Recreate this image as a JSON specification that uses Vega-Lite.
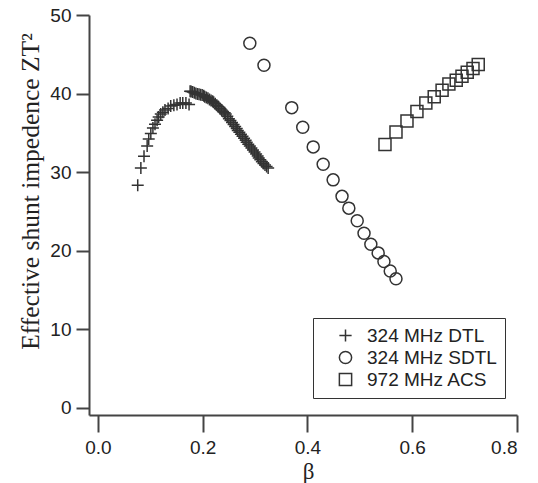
{
  "$schema": "https://vega.github.io/schema/vega-lite/v6.json",
  "width": 428,
  "height": 400,
  "autosize": {"type": "none"},
  "padding": {"left": 89, "top": 15, "right": 21, "bottom": 68},
  "background": "white",
  "view": {"stroke": null},
  "config": {
    "font": "Liberation Sans",
    "axis": {"grid": false, "domainColor": "#444", "domainWidth": 2, "tickColor": "#444", "tickWidth": 2, "labelFont": "Liberation Sans", "labelFontSize": 19, "labelColor": "#222"}
  },
  "datasets": {
    "pts": [
      {"beta": 0.076, "z": 28.3, "s": "324 MHz DTL"},
      {"beta": 0.082, "z": 30.5, "s": "324 MHz DTL"},
      {"beta": 0.088, "z": 32.0, "s": "324 MHz DTL"},
      {"beta": 0.094, "z": 33.3, "s": "324 MHz DTL"},
      {"beta": 0.097, "z": 34.2, "s": "324 MHz DTL"},
      {"beta": 0.101, "z": 34.9, "s": "324 MHz DTL"},
      {"beta": 0.105, "z": 35.6, "s": "324 MHz DTL"},
      {"beta": 0.109, "z": 36.1, "s": "324 MHz DTL"},
      {"beta": 0.113, "z": 36.6, "s": "324 MHz DTL"},
      {"beta": 0.116, "z": 37.0, "s": "324 MHz DTL"},
      {"beta": 0.120, "z": 37.4, "s": "324 MHz DTL"},
      {"beta": 0.124, "z": 37.6, "s": "324 MHz DTL"},
      {"beta": 0.128, "z": 37.9, "s": "324 MHz DTL"},
      {"beta": 0.134, "z": 38.1, "s": "324 MHz DTL"},
      {"beta": 0.139, "z": 38.4, "s": "324 MHz DTL"},
      {"beta": 0.145, "z": 38.5, "s": "324 MHz DTL"},
      {"beta": 0.151, "z": 38.6, "s": "324 MHz DTL"},
      {"beta": 0.157, "z": 38.8, "s": "324 MHz DTL"},
      {"beta": 0.162, "z": 38.8, "s": "324 MHz DTL"},
      {"beta": 0.168, "z": 38.8, "s": "324 MHz DTL"},
      {"beta": 0.174, "z": 38.6, "s": "324 MHz DTL"},
      {"beta": 0.176, "z": 40.3, "s": "324 MHz DTL"},
      {"beta": 0.178, "z": 40.25, "s": "324 MHz DTL"},
      {"beta": 0.181, "z": 40.2, "s": "324 MHz DTL"},
      {"beta": 0.184, "z": 40.1, "s": "324 MHz DTL"},
      {"beta": 0.187, "z": 40.0, "s": "324 MHz DTL"},
      {"beta": 0.190, "z": 39.95, "s": "324 MHz DTL"},
      {"beta": 0.193, "z": 39.9, "s": "324 MHz DTL"},
      {"beta": 0.196, "z": 39.85, "s": "324 MHz DTL"},
      {"beta": 0.199, "z": 39.8, "s": "324 MHz DTL"},
      {"beta": 0.202, "z": 39.7, "s": "324 MHz DTL"},
      {"beta": 0.204, "z": 39.6, "s": "324 MHz DTL"},
      {"beta": 0.207, "z": 39.5, "s": "324 MHz DTL"},
      {"beta": 0.210, "z": 39.4, "s": "324 MHz DTL"},
      {"beta": 0.213, "z": 39.25, "s": "324 MHz DTL"},
      {"beta": 0.216, "z": 39.1, "s": "324 MHz DTL"},
      {"beta": 0.219, "z": 39.0, "s": "324 MHz DTL"},
      {"beta": 0.221, "z": 38.9, "s": "324 MHz DTL"},
      {"beta": 0.224, "z": 38.7, "s": "324 MHz DTL"},
      {"beta": 0.227, "z": 38.5, "s": "324 MHz DTL"},
      {"beta": 0.230, "z": 38.3, "s": "324 MHz DTL"},
      {"beta": 0.233, "z": 38.1, "s": "324 MHz DTL"},
      {"beta": 0.236, "z": 37.9, "s": "324 MHz DTL"},
      {"beta": 0.239, "z": 37.7, "s": "324 MHz DTL"},
      {"beta": 0.242, "z": 37.55, "s": "324 MHz DTL"},
      {"beta": 0.244, "z": 37.4, "s": "324 MHz DTL"},
      {"beta": 0.247, "z": 37.1, "s": "324 MHz DTL"},
      {"beta": 0.250, "z": 36.8, "s": "324 MHz DTL"},
      {"beta": 0.253, "z": 36.55, "s": "324 MHz DTL"},
      {"beta": 0.256, "z": 36.3, "s": "324 MHz DTL"},
      {"beta": 0.259, "z": 36.05, "s": "324 MHz DTL"},
      {"beta": 0.262, "z": 35.8, "s": "324 MHz DTL"},
      {"beta": 0.265, "z": 35.55, "s": "324 MHz DTL"},
      {"beta": 0.267, "z": 35.3, "s": "324 MHz DTL"},
      {"beta": 0.270, "z": 35.05, "s": "324 MHz DTL"},
      {"beta": 0.273, "z": 34.8, "s": "324 MHz DTL"},
      {"beta": 0.276, "z": 34.55, "s": "324 MHz DTL"},
      {"beta": 0.279, "z": 34.3, "s": "324 MHz DTL"},
      {"beta": 0.282, "z": 34.05, "s": "324 MHz DTL"},
      {"beta": 0.284, "z": 33.8, "s": "324 MHz DTL"},
      {"beta": 0.287, "z": 33.55, "s": "324 MHz DTL"},
      {"beta": 0.290, "z": 33.3, "s": "324 MHz DTL"},
      {"beta": 0.293, "z": 33.05, "s": "324 MHz DTL"},
      {"beta": 0.296, "z": 32.8, "s": "324 MHz DTL"},
      {"beta": 0.299, "z": 32.55, "s": "324 MHz DTL"},
      {"beta": 0.302, "z": 32.3, "s": "324 MHz DTL"},
      {"beta": 0.305, "z": 32.05, "s": "324 MHz DTL"},
      {"beta": 0.307, "z": 31.8, "s": "324 MHz DTL"},
      {"beta": 0.310, "z": 31.55, "s": "324 MHz DTL"},
      {"beta": 0.313, "z": 31.3, "s": "324 MHz DTL"},
      {"beta": 0.316, "z": 31.1, "s": "324 MHz DTL"},
      {"beta": 0.319, "z": 30.9, "s": "324 MHz DTL"},
      {"beta": 0.322, "z": 30.7, "s": "324 MHz DTL"},
      {"beta": 0.325, "z": 30.5, "s": "324 MHz DTL"},
      {"beta": 0.290, "z": 46.4, "s": "324 MHz SDTL"},
      {"beta": 0.317, "z": 43.6, "s": "324 MHz SDTL"},
      {"beta": 0.370, "z": 38.2, "s": "324 MHz SDTL"},
      {"beta": 0.391, "z": 35.7, "s": "324 MHz SDTL"},
      {"beta": 0.411, "z": 33.2, "s": "324 MHz SDTL"},
      {"beta": 0.430, "z": 31.0, "s": "324 MHz SDTL"},
      {"beta": 0.449, "z": 29.0, "s": "324 MHz SDTL"},
      {"beta": 0.466, "z": 26.9, "s": "324 MHz SDTL"},
      {"beta": 0.479, "z": 25.4, "s": "324 MHz SDTL"},
      {"beta": 0.495, "z": 23.8, "s": "324 MHz SDTL"},
      {"beta": 0.508, "z": 22.2, "s": "324 MHz SDTL"},
      {"beta": 0.521, "z": 20.8, "s": "324 MHz SDTL"},
      {"beta": 0.535, "z": 19.7, "s": "324 MHz SDTL"},
      {"beta": 0.546, "z": 18.6, "s": "324 MHz SDTL"},
      {"beta": 0.558, "z": 17.4, "s": "324 MHz SDTL"},
      {"beta": 0.569, "z": 16.4, "s": "324 MHz SDTL"},
      {"beta": 0.548, "z": 33.5, "s": "972 MHz ACS"},
      {"beta": 0.569, "z": 35.1, "s": "972 MHz ACS"},
      {"beta": 0.590, "z": 36.5, "s": "972 MHz ACS"},
      {"beta": 0.609, "z": 37.7, "s": "972 MHz ACS"},
      {"beta": 0.626, "z": 38.8, "s": "972 MHz ACS"},
      {"beta": 0.642, "z": 39.6, "s": "972 MHz ACS"},
      {"beta": 0.657, "z": 40.4, "s": "972 MHz ACS"},
      {"beta": 0.670, "z": 41.2, "s": "972 MHz ACS"},
      {"beta": 0.684, "z": 41.7, "s": "972 MHz ACS"},
      {"beta": 0.695, "z": 42.2, "s": "972 MHz ACS"},
      {"beta": 0.705, "z": 42.7, "s": "972 MHz ACS"},
      {"beta": 0.716, "z": 43.2, "s": "972 MHz ACS"},
      {"beta": 0.726, "z": 43.7, "s": "972 MHz ACS"}
    ]
  },
  "data": {"name": "pts"},
  "mark": {"type": "point", "filled": false, "color": "#333", "strokeWidth": 1.5, "size": 144, "opacity": 1},
  "encoding": {
    "x": {
      "field": "beta", "type": "quantitative",
      "scale": {"domain": [-0.017, 0.8], "nice": false, "zero": false},
      "axis": {"values": [0, 0.2, 0.4, 0.6, 0.8], "format": ".1f", "tickSize": 17, "labelPadding": 6,
        "title": "β", "titleFont": "Liberation Serif", "titleFontSize": 23, "titleFontWeight": "normal", "titleColor": "#222",
        "titleX": 219, "titleY": 63, "titleBaseline": "alphabetic", "titleAlign": "center"}
    },
    "y": {
      "field": "z", "type": "quantitative",
      "scale": {"domain": [-0.95, 50], "nice": false, "zero": false},
      "axis": {"values": [0, 10, 20, 30, 40, 50], "tickSize": 13, "labelPadding": 5,
        "title": "Effective shunt impedence ZT²", "titleFont": "Liberation Serif", "titleFontSize": 25.5, "titleFontWeight": "normal", "titleColor": "#222",
        "titleX": -59, "titleY": 176, "titleAngle": -90, "titleBaseline": "middle", "titleAlign": "center"}
    },
    "shape": {
      "field": "s", "type": "nominal",
      "scale": {"domain": ["324 MHz DTL", "324 MHz SDTL", "972 MHz ACS"], "range": ["M-1,0H1M0,-1V1", "circle", "square"]},
      "legend": {"title": null, "orient": "none", "legendX": 224, "legendY": 303,
        "strokeColor": "#333", "fillColor": "white", "padding": 8,
        "symbolOffset": 15, "symbolSize": 150, "symbolStrokeColor": "#333", "symbolStrokeWidth": 1.5, "symbolFillColor": "transparent",
        "labelFont": "Liberation Sans", "labelFontSize": 19, "labelColor": "#222", "labelOffset": 12, "rowPadding": 2,
        "encode": {"legend": {"update": {"strokeWidth": {"value": 1.5}}}}}
    }
  }
}
